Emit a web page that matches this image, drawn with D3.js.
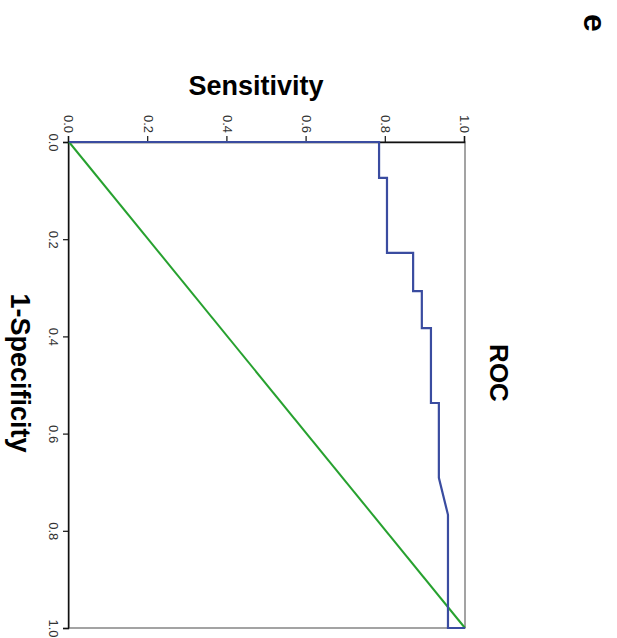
<!DOCTYPE html>
<html>
<head>
<meta charset="utf-8">
<script src="https://cdn.jsdelivr.net/npm/d3@7"></script>
<style>
  body { margin: 0; background: #fff; }
  svg { display: block; font-family: "Liberation Sans", Arial, sans-serif; }
</style>
</head>
<body>
<div id="vis"></div>
<script>
// ROC curve points (1-specificity, sensitivity)
const fpr = [0, 0, 0.074, 0.074, 0.228, 0.228, 0.307, 0.307, 0.383, 0.383, 0.537, 0.537, 0.691, 0.767, 1, 1];
const tpr = [0, 0.783, 0.783, 0.803, 0.803, 0.869, 0.869, 0.891, 0.891, 0.914, 0.914, 0.934, 0.934, 0.957, 0.957, 1];
const refLine = [[0, 0], [1, 1]];
const ticks = [0, 0.2, 0.4, 0.6, 0.8, 1.0];

const W = 617, H = 638;
// chart drawn upright, then turned 90deg clockwise
const plotW = 486; // 1-specificity length
const plotH = 396; // sensitivity length

const svg = d3.select("#vis").append("svg")
  .attr("width", W)
  .attr("height", H);

const g = svg.append("g")
  .attr("transform", `translate(465,142) rotate(90)`);

const x = d3.scaleLinear().domain([0, 1]).range([0, plotW]);
const y = d3.scaleLinear().domain([0, 1]).range([plotH, 0]);

// frame
g.append("rect")
  .attr("x", 0).attr("y", 0)
  .attr("width", plotW).attr("height", plotH)
  .attr("fill", "none")
  .attr("stroke", "#666")
  .attr("stroke-width", 1.2);

const xAxis = g.append("g")
  .attr("transform", `translate(0,${plotH})`)
  .call(d3.axisBottom(x).tickValues(ticks).tickFormat(d3.format(".1f")).tickSize(6).tickPadding(5));

const yAxis = g.append("g")
  .call(d3.axisLeft(y).tickValues(ticks).tickFormat(d3.format(".1f")).tickSize(6).tickPadding(3));

[xAxis, yAxis].forEach(a => {
  a.select(".domain").attr("stroke", "#111").attr("stroke-width", 1.4);
  a.selectAll(".tick line").attr("stroke", "#111").attr("stroke-width", 1.2);
  a.selectAll(".tick text").attr("font-size", 13).attr("fill", "#333");
});

// reference diagonal
g.append("path")
  .datum(refLine)
  .attr("d", d3.line().x(d => x(d[0])).y(d => y(d[1])))
  .attr("fill", "none")
  .attr("stroke", "#27a12f")
  .attr("stroke-width", 2);

// ROC curve
g.append("path")
  .datum(fpr.map((f, i) => [f, tpr[i]]))
  .attr("d", d3.line().x(d => x(d[0])).y(d => y(d[1])))
  .attr("fill", "none")
  .attr("stroke", "#3a4ca0")
  .attr("stroke-width", 2.2);

// titles
g.append("text")
  .attr("x", plotW / 2 - 12).attr("y", -25)
  .attr("text-anchor", "middle")
  .attr("font-size", 26).attr("font-weight", "bold")
  .text("ROC");

g.append("text")
  .attr("x", plotW / 2 - 12).attr("y", plotH + 58)
  .attr("text-anchor", "middle")
  .attr("font-size", 27).attr("font-weight", "bold")
  .text("1-Specificity");

g.append("text")
  .attr("transform", `translate(-47,${y(0.5) + 11}) rotate(-90)`)
  .attr("text-anchor", "middle")
  .attr("font-size", 27).attr("font-weight", "bold")
  .text("Sensitivity");

g.append("text")
  .attr("x", -119).attr("y", -119)
  .attr("text-anchor", "middle")
  .attr("font-size", 32).attr("font-weight", "bold")
  .text("e");
</script>
</body>
</html>
